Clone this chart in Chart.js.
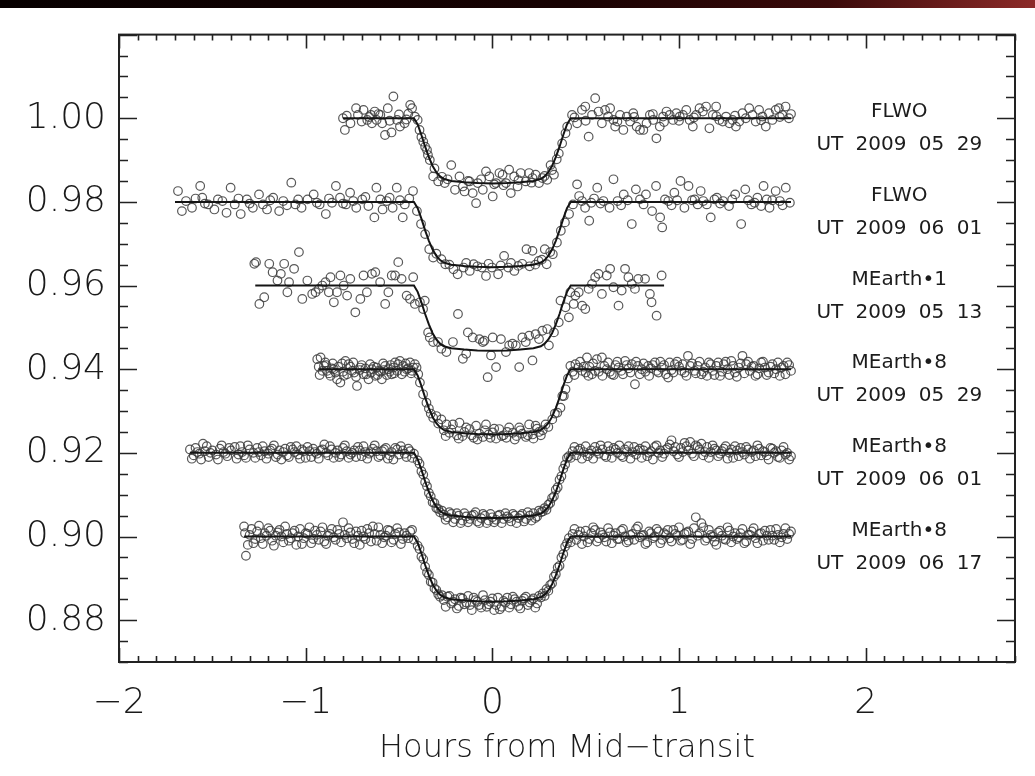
<!DOCTYPE html>
<html>
<head>
<meta charset="utf-8">
<script src="https://cdn.jsdelivr.net/npm/chart.js@4.4.1/dist/chart.umd.min.js"></script>
<style>
  html, body { margin: 0; padding: 0; background: #fff; }
  canvas { display: block; }
</style>
</head>
<body>
<canvas id="lightCurves" width="1035" height="776"></canvas>
<script>
// baseline of each light curve (they are offset by 0.02 for display)
var curveBase = [1.00, 0.98, 0.96, 0.94, 0.92, 0.90];
var curveSite = ['FLWO', 'FLWO', 'MEarth\u20221', 'MEarth\u20228', 'MEarth\u20228', 'MEarth\u20228'];
var curveDate = ['UT 2009 05 29', 'UT 2009 06 01', 'UT 2009 05 13', 'UT 2009 05 29', 'UT 2009 06 01', 'UT 2009 06 17'];
var fitFrom = [-0.80, -1.70, -1.27, -0.93, -1.62, -1.33];
var fitTo = [1.60, 1.60, 0.92, 1.60, 1.60, 1.60];

// fitted transit model, depth in parts per thousand below the baseline
var modelHours = [-0.42, -0.40, -0.38, -0.36, -0.34, -0.32, -0.30, -0.28, -0.26, -0.22, -0.15, -0.08, 0,
                  0.08, 0.15, 0.22, 0.26, 0.28, 0.30, 0.32, 0.34, 0.36, 0.38, 0.40, 0.42];
var modelDepth = [0, 1.5, 4.0, 6.8, 9.3, 11.4, 12.9, 13.9, 14.5, 15.0, 15.3, 15.5, 15.6,
                  15.5, 15.3, 15.0, 14.5, 13.9, 12.9, 11.4, 9.3, 6.8, 4.0, 1.5, 0];

var xTicks = [-2, -1, 0, 1, 2];
var yTicks = [0.88, 0.90, 0.92, 0.94, 0.96, 0.98, 1.00];

// measurements: [hours from mid-transit, flux offset from baseline in ppt]
var flwo0529 = [
  [-0.80,0.0],[-0.79,-2.8],[-0.78,0.6],[-0.76,-1.2],[-0.73,2.4],[-0.72,0.8],[-0.70,-0.8],[-0.69,2.0],[-0.67,-0.4],
  [-0.66,0.3],[-0.65,0.8],[-0.645,-1.2],[-0.63,1.6],[-0.62,-0.4],[-0.61,1.0],[-0.60,0.8],[-0.59,-1.2],[-0.575,-4.0],
  [-0.56,2.4],[-0.55,-0.6],[-0.54,-3.4],[-0.53,5.2],[-0.51,-0.4],[-0.50,0.9],[-0.495,-2.0],[-0.47,-1.2],[-0.46,-0.3],
  [-0.45,1.1],[-0.44,3.2],[-0.43,2.4],[-0.415,0.4],[-0.40,-0.4],[-0.39,-2.8],[-0.38,-4.5],[-0.37,-5.6],[-0.36,-6.8],
  [-0.35,-7.6],[-0.345,-8.8],[-0.335,-10.0],[-0.317,-13.9],[-0.31,-12.0],[-0.29,-15.1],[-0.27,-14.0],[-0.255,-15.5],
  [-0.24,-14.6],[-0.22,-11.2],[-0.20,-17.1],[-0.176,-13.9],[-0.158,-16.3],[-0.149,-17.5],[-0.13,-15.0],[-0.122,-15.1],
  [-0.105,-17.9],[-0.087,-20.3],[-0.078,-15.5],[-0.06,-14.6],[-0.051,-17.1],[-0.034,-12.7],[-0.016,-13.9],[0.002,-18.7],
  [0.01,-15.8],[0.02,-15.5],[0.038,-13.1],[0.055,-13.5],[0.06,-16.0],[0.073,-15.5],[0.09,-12.3],[0.099,-17.9],
  [0.117,-13.9],[0.135,-16.3],[0.14,-14.8],[0.152,-13.1],[0.179,-15.1],[0.197,-13.1],[0.21,-15.4],[0.215,-14.3],
  [0.232,-13.5],[0.25,-15.5],[0.268,-14.3],[0.28,-13.8],[0.294,-14.7],[0.312,-11.2],[0.32,-12.4],[0.33,-13.5],
  [0.345,-9.8],[0.356,-8.4],[0.374,-6.0],[0.392,-3.6],[0.401,-2.0],[0.427,0.8],[0.44,0.2],[0.454,-1.2],[0.48,2.0],
  [0.498,2.8],[0.50,-0.6],[0.516,-4.4],[0.534,0.8],[0.551,4.8],[0.569,1.6],[0.587,-1.2],[0.604,2.0],[0.62,0.4],
  [0.631,2.4],[0.649,-0.4],[0.658,-2.0],[0.67,-0.8],[0.684,0.8],[0.702,-2.8],[0.72,0.4],[0.738,-0.8],[0.755,1.2],
  [0.76,0.3],[0.773,-2.0],[0.791,-2.8],[0.809,-2.8],[0.826,-1.2],[0.844,0.8],[0.86,1.0],[0.862,-0.4],[0.879,-4.8],
  [0.897,-2.0],[0.915,0.4],[0.92,-0.9],[0.933,1.6],[0.95,0.8],[0.968,-0.4],[0.986,1.2],[1.00,-0.6],[1.004,0.4],
  [1.021,0.8],[1.039,2.0],[1.057,-0.4],[1.074,-2.0],[1.08,0.2],[1.092,0.8],[1.11,2.4],[1.128,1.6],[1.145,2.8],
  [1.163,-2.4],[1.181,0.8],[1.199,2.8],[1.20,0.5],[1.216,-0.4],[1.234,-0.8],[1.252,0.4],[1.27,-1.2],[1.287,-0.4],
  [1.30,0.6],[1.305,-2.0],[1.323,-0.8],[1.34,1.2],[1.358,0.0],[1.376,2.4],[1.394,0.8],[1.411,-0.8],[1.429,2.0],
  [1.44,-0.5],[1.447,0.4],[1.465,-2.0],[1.482,1.2],[1.50,-0.4],[1.518,2.0],[1.535,2.4],[1.54,0.3],[1.553,0.8],
  [1.571,2.8],[1.589,0.0],[1.60,1.0]
];
var flwo0601 = [
  [-1.684,2.6],[-1.663,-2.2],[-1.641,0.2],[-1.609,-1.4],[-1.59,0.8],[-1.565,3.8],[-1.554,1.0],[-1.54,-0.4],[-1.522,-0.6],
  [-1.489,-1.8],[-1.47,0.6],[-1.446,0.2],[-1.424,-2.6],[-1.402,3.4],[-1.380,-0.6],[-1.36,0.8],[-1.348,-2.9],[-1.315,0.6],
  [-1.30,-0.4],[-1.283,-1.4],[-1.250,1.8],[-1.229,-0.6],[-1.207,-1.8],[-1.19,0.4],[-1.174,1.0],[-1.142,-2.2],[-1.120,0.2],
  [-1.10,-0.8],[-1.077,4.6],[-1.055,-0.6],[-1.04,0.6],[-1.022,-1.4],[-0.990,0.6],[-0.957,1.8],[-0.94,-0.2],[-0.925,-0.6],
  [-0.892,-2.9],[-0.875,0.8],[-0.859,-0.2],[-0.838,3.8],[-0.816,1.0],[-0.80,-0.4],[-0.784,-0.6],[-0.762,2.2],[-0.745,0.2],
  [-0.729,-1.4],[-0.697,0.6],[-0.68,1.2],[-0.664,-1.0],[-0.632,-3.7],[-0.621,3.4],[-0.60,0.6],[-0.588,-1.8],[-0.566,0.2],
  [-0.55,1.0],[-0.534,-1.4],[-0.512,3.4],[-0.495,0.4],[-0.480,-3.7],[-0.469,-0.6],[-0.445,0.8],[-0.425,2.6],[-0.404,-2.2],
  [-0.382,-5.3],[-0.360,-7.7],[-0.338,-11.3],[-0.317,-13.3],[-0.30,-12.4],[-0.273,-13.7],[-0.252,-14.9],[-0.23,-15.0],
  [-0.208,-16.1],[-0.186,-17.3],[-0.154,-15.7],[-0.14,-14.6],[-0.121,-16.5],[-0.100,-14.9],[-0.08,-15.4],[-0.056,-15.7],
  [-0.034,-17.7],[-0.02,-14.8],[-0.002,-15.7],[0.031,-17.3],[0.045,-15.2],[0.063,-12.9],[0.085,-15.7],[0.10,-14.6],
  [0.118,-16.5],[0.139,-15.3],[0.16,-14.8],[0.183,-11.3],[0.20,-15.4],[0.215,-11.7],[0.23,-15.0],[0.248,-14.1],
  [0.265,-13.8],[0.281,-11.3],[0.291,-14.9],[0.31,-12.0],[0.324,-12.5],[0.346,-9.7],[0.367,-6.9],[0.389,-4.9],
  [0.411,-2.9],[0.432,-0.6],[0.454,4.2],[0.465,1.4],[0.48,0.2],[0.497,-1.4],[0.519,-4.5],[0.530,-0.2],[0.545,0.8],
  [0.562,3.4],[0.58,-0.4],[0.595,0.2],[0.628,-1.4],[0.649,5.4],[0.671,0.2],[0.69,-0.8],[0.704,1.8],[0.725,0.4],
  [0.747,-5.3],[0.769,3.0],[0.791,0.6],[0.81,-0.6],[0.823,1.8],[0.856,-2.2],[0.877,3.8],[0.899,-3.7],[0.910,-6.1],
  [0.925,0.6],[0.943,0.2],[0.96,-0.8],[0.975,2.2],[0.99,0.4],[1.008,5.0],[1.029,-1.4],[1.051,3.8],[1.07,0.4],
  [1.084,0.6],[1.10,-0.6],[1.116,2.6],[1.13,0.2],[1.149,-0.6],[1.170,-3.7],[1.19,0.6],[1.203,1.0],[1.22,-0.4],
  [1.236,0.2],[1.268,-1.0],[1.285,0.6],[1.301,1.8],[1.333,-5.3],[1.355,3.0],[1.37,0.4],[1.388,-0.6],[1.405,-0.2],
  [1.420,1.0],[1.44,-1.0],[1.453,3.8],[1.47,0.6],[1.485,-1.4],[1.50,0.4],[1.518,2.6],[1.540,0.2],[1.555,-0.8],
  [1.572,3.4],[1.594,-0.2]
];
var mearth1_0513 = [
  [-1.275,5.2],[-1.266,5.6],[-1.248,-4.4],[-1.222,-2.8],[-1.195,5.2],[-1.177,3.2],[-1.151,1.2],[-1.133,2.8],[-1.115,5.2],
  [-1.098,-1.6],[-1.089,0.8],[-1.062,4.0],[-1.036,8.0],[-1.018,-3.2],[-0.991,1.2],[-0.965,-2.0],[-0.947,-1.6],
  [-0.929,-0.8],[-0.911,0.0],[-0.894,0.8],[-0.876,-1.6],[-0.867,2.0],[-0.849,-4.0],[-0.832,-1.6],[-0.814,2.4],
  [-0.796,0.0],[-0.778,-2.4],[-0.761,1.6],[-0.734,-6.4],[-0.707,-3.2],[-0.690,2.4],[-0.672,-1.6],[-0.645,2.8],
  [-0.627,3.2],[-0.601,0.8],[-0.574,-4.4],[-0.557,-1.6],[-0.539,2.4],[-0.521,2.4],[-0.504,5.6],[-0.486,1.6],
  [-0.459,-2.4],[-0.441,-3.2],[-0.424,2.0],[-0.415,-4.4],[-0.388,-4.0],[-0.371,-5.6],[-0.362,-3.6],[-0.344,-11.2],
  [-0.335,-12.4],[-0.317,-13.5],[-0.291,-13.5],[-0.273,-15.1],[-0.246,-15.9],[-0.211,-13.5],[-0.184,-6.8],
  [-0.158,-17.5],[-0.140,-16.3],[-0.131,-11.2],[-0.105,-12.4],[-0.069,-12.8],[-0.051,-13.5],[-0.043,-13.2],
  [-0.025,-21.9],[-0.007,-16.7],[0.002,-12.4],[0.020,-19.5],[0.046,-12.8],[0.073,-15.9],[0.090,-14.3],[0.108,-13.9],
  [0.126,-14.3],[0.144,-19.5],[0.161,-12.4],[0.179,-13.5],[0.197,-12.0],[0.215,-17.9],[0.232,-11.6],[0.250,-12.8],
  [0.268,-10.8],[0.294,-10.4],[0.303,-14.3],[0.330,-11.2],[0.356,-8.8],[0.365,-3.6],[0.392,-5.2],[0.410,-7.6],
  [0.418,-1.6],[0.436,-4.4],[0.445,-2.4],[0.463,-1.6],[0.481,-4.8],[0.498,-5.6],[0.516,-0.8],[0.534,0.4],[0.551,2.0],
  [0.569,2.8],[0.587,-2.0],[0.613,2.4],[0.631,4.0],[0.649,-0.4],[0.676,-4.8],[0.693,-1.2],[0.711,4.0],[0.729,2.0],
  [0.747,0.4],[0.764,-0.8],[0.782,1.6],[0.818,1.6],[0.844,-2.0],[0.853,-4.0],[0.880,-7.2],[0.907,2.4]
];
var mearth8_0529 = [
  [-0.938,2.4],[-0.93,0.6],[-0.920,2.8],[-0.91,-0.4],[-0.902,0.8],[-0.89,1.0],[-0.885,-0.4],[-0.867,-1.6],[-0.86,0.2],
  [-0.849,0.0],[-0.84,-0.8],[-0.832,-2.4],[-0.814,-3.2],[-0.80,-0.6],[-0.787,2.0],[-0.778,-1.2],[-0.76,0.6],
  [-0.752,-0.4],[-0.74,-0.8],[-0.725,-4.0],[-0.71,-0.2],[-0.707,0.4],[-0.690,-1.2],[-0.68,0.2],[-0.663,-2.4],
  [-0.65,-0.8],[-0.645,0.0],[-0.627,-1.6],[-0.62,0.4],[-0.610,-0.4],[-0.60,-0.6],[-0.592,-2.4],[-0.58,-0.2],
  [-0.574,0.8],[-0.557,0.0],[-0.55,-0.6],[-0.539,-1.2],[-0.53,0.4],[-0.521,1.6],[-0.51,-0.4],[-0.495,2.0],
  [-0.477,0.8],[-0.47,-0.6],[-0.459,0.0],[-0.45,0.2],[-0.441,1.6],[-0.43,-0.4],[-0.424,0.4],[-0.406,0.4],
  [-0.397,-1.2],[-0.388,-3.2],[-0.371,-6.0],[-0.353,-8.0],[-0.34,-9.4],[-0.33,-10.6],[-0.317,-11.6],[-0.30,-11.2],
  [-0.29,-13.0],[-0.273,-12.0],[-0.26,-14.6],[-0.246,-13.2],[-0.23,-15.2],[-0.211,-13.2],[-0.19,-15.8],[-0.176,-12.8],
  [-0.16,-16.0],[-0.14,-13.9],[-0.122,-14.3],[-0.10,-16.4],[-0.087,-13.5],[-0.07,-15.4],[-0.05,-16.2],[-0.034,-13.2],
  [-0.02,-15.6],[0.002,-15.1],[0.02,-16.6],[0.037,-14.3],[0.06,-15.8],[0.075,-16.4],[0.09,-13.9],[0.11,-15.2],
  [0.13,-16.0],[0.144,-13.9],[0.16,-15.4],[0.18,-16.2],[0.197,-13.2],[0.215,-15.6],[0.232,-13.5],[0.25,-15.0],
  [0.27,-14.6],[0.285,-13.2],[0.30,-13.8],[0.321,-12.0],[0.335,-10.6],[0.348,-10.4],[0.365,-9.2],[0.375,-6.4],
  [0.383,-6.4],[0.392,-4.8],[0.405,-2.2],[0.418,0.8],[0.43,-0.6],[0.445,1.2],[0.46,0.4],[0.481,-0.4],[0.50,-0.8],
  [0.507,2.8],[0.52,0.6],[0.534,-1.2],[0.55,-0.4],[0.560,2.4],[0.587,2.8],[0.60,0.8],[0.613,0.0],[0.63,-0.6],
  [0.640,-1.2],[0.66,1.0],[0.676,0.4],[0.69,-0.4],[0.711,2.0],[0.73,0.2],[0.747,1.2],[0.764,-3.6],[0.78,0.8],
  [0.800,0.0],[0.82,-0.6],[0.835,0.8],[0.85,0.2],[0.871,1.6],[0.89,-0.8],[0.907,0.4],[0.92,1.0],[0.942,-2.0],
  [0.96,-0.2],[0.978,1.2],[1.00,0.6],[1.013,-0.4],[1.03,-0.8],[1.048,3.2],[1.06,0.8],[1.084,-0.4],[1.10,0.8],
  [1.12,-1.2],[1.14,0.4],[1.16,1.6],[1.18,-0.4],[1.20,0.8],[1.22,-1.6],[1.24,1.2],[1.26,0.0],[1.28,2.0],[1.30,-0.8],
  [1.32,0.4],[1.34,3.2],[1.36,1.2],[1.38,-0.4],[1.40,0.8],[1.42,-1.2],[1.44,1.6],[1.46,0.4],[1.48,-0.8],[1.50,1.2],
  [1.52,0.0],[1.54,-1.6],[1.56,0.8],[1.58,1.6],[1.60,-0.4],
  [-0.925,-1.4],[-0.895,1.6],[-0.875,-1.0],[-0.855,1.4],[-0.825,0.6],[-0.805,1.4],[-0.795,-1.6],[-0.77,1.2],
  [-0.745,1.6],[-0.73,-1.8],[-0.70,1.0],[-0.675,-1.2],[-0.655,1.2],[-0.635,0.6],[-0.615,-1.4],[-0.585,1.4],
  [-0.565,-1.4],[-0.545,1.0],[-0.525,-1.0],[-0.505,1.2],[-0.485,-1.2],[-0.465,1.4],[-0.435,-1.0],[-0.415,1.2],
  [-0.25,-16.0],[-0.22,-14.4],[-0.18,-16.6],[-0.15,-15.0],[-0.11,-15.8],[-0.08,-16.8],[-0.04,-14.6],[-0.01,-16.4],
  [0.01,-14.2],[0.05,-16.0],[0.08,-15.0],[0.12,-16.8],[0.15,-14.6],[0.19,-15.8],[0.22,-16.6],[0.24,-14.2],[0.26,-15.8],
  [0.44,-1.4],[0.47,1.8],[0.49,0.6],[0.515,-1.6],[0.54,1.4],[0.57,-0.6],[0.59,-1.6],[0.62,1.6],[0.65,-1.4],[0.67,1.8],
  [0.70,-1.2],[0.72,1.0],[0.74,-0.8],[0.77,1.8],[0.79,-1.2],[0.81,1.4],[0.84,-1.6],[0.86,1.0],[0.88,-0.4],[0.90,1.8],
  [0.93,-1.2],[0.95,1.6],[0.97,-0.8],[0.99,1.8],[1.02,1.2],[1.04,-1.6],[1.07,1.4],[1.09,-1.0],[1.11,1.8],[1.13,-0.6],
  [1.15,-1.6],[1.17,1.2],[1.19,-1.4],[1.21,1.6],[1.23,-0.6],[1.25,1.8],[1.27,-1.4],[1.29,0.8],[1.31,-1.8],[1.33,1.4],
  [1.35,-1.0],[1.37,1.8],[1.39,0.6],[1.41,-1.6],[1.43,0.2],[1.45,1.8],[1.47,-1.4],[1.49,0.6],[1.51,-1.0],[1.53,1.6],
  [1.55,0.4],[1.57,-1.2],[1.59,1.0]
];
var mearth8_0601 = [
  [-1.62,0.8],[-1.60,-0.6],[-1.59,1.2],[-1.57,-0.2],[-1.55,2.2],[-1.54,0.4],[-1.52,-1.0],[-1.50,0.6],[-1.48,-0.4],
  [-1.46,1.0],[-1.44,0.2],[-1.42,-0.8],[-1.40,0.6],[-1.38,1.4],[-1.36,-0.4],[-1.34,0.2],[-1.32,-1.2],[-1.30,0.8],
  [-1.28,0.0],[-1.26,1.2],[-1.24,-0.6],[-1.22,0.4],[-1.20,-0.2],[-1.18,1.0],[-1.16,-1.0],[-1.14,0.6],[-1.12,0.2],
  [-1.10,-0.6],[-1.08,1.4],[-1.06,0.2],[-1.04,-0.4],[-1.02,0.8],[-1.00,-1.2],[-0.98,0.4],[-0.96,1.0],[-0.94,-0.2],
  [-0.92,0.6],[-0.90,2.0],[-0.88,-0.6],[-0.86,0.8],[-0.84,0.0],[-0.82,-1.0],[-0.80,1.2],[-0.78,0.4],[-0.76,-0.4],
  [-0.74,0.6],[-0.72,1.4],[-0.70,-0.8],[-0.68,0.2],[-0.66,-0.2],[-0.64,1.0],[-0.62,0.4],[-0.60,-0.6],[-0.58,0.8],
  [-0.56,-1.4],[-0.54,0.2],[-0.52,1.2],[-0.50,-0.4],[-0.48,0.6],[-0.46,-1.0],[-0.44,0.4],[-0.42,-0.2],[-0.40,-1.8],
  [-0.39,-2.6],[-0.38,-4.4],[-0.37,-5.2],[-0.36,-7.0],[-0.35,-8.0],[-0.34,-9.6],[-0.33,-10.4],[-0.32,-11.8],
  [-0.31,-12.0],[-0.30,-13.2],[-0.29,-13.4],[-0.28,-14.2],[-0.27,-13.8],[-0.26,-14.8],[-0.24,-15.4],[-0.22,-14.6],
  [-0.20,-15.8],[-0.18,-15.0],[-0.16,-16.2],[-0.14,-15.2],[-0.12,-15.8],[-0.10,-14.8],[-0.08,-16.4],[-0.06,-15.6],
  [-0.04,-15.0],[-0.02,-16.2],[0.00,-15.4],[0.02,-16.0],[0.04,-14.8],[0.06,-15.8],[0.08,-15.2],[0.10,-16.4],
  [0.12,-15.0],[0.14,-15.6],[0.16,-14.6],[0.18,-15.8],[0.20,-15.0],[0.22,-14.4],[0.24,-15.2],[0.26,-14.2],
  [0.27,-14.0],[0.28,-13.2],[0.29,-13.6],[0.30,-12.4],[0.31,-12.0],[0.32,-10.8],[0.33,-10.4],[0.34,-8.8],[0.35,-8.2],
  [0.36,-6.4],[0.37,-5.6],[0.38,-3.8],[0.39,-2.8],[0.40,-1.2],[0.41,-0.8],[0.43,0.4],[0.45,-0.6],[0.47,1.0],[0.49,0.2],
  [0.51,-0.8],[0.53,0.6],[0.55,1.4],[0.57,-0.2],[0.59,0.8],[0.61,-1.0],[0.63,0.4],[0.65,1.2],[0.67,0.0],[0.69,-0.6],
  [0.71,0.8],[0.73,1.6],[0.75,0.2],[0.77,-0.4],[0.79,1.0],[0.81,0.6],[0.83,-0.8],[0.85,0.4],[0.87,1.4],[0.89,0.0],
  [0.91,-1.0],[0.93,0.8],[0.95,2.0],[0.97,0.4],[0.99,-0.4],[1.01,1.2],[1.03,2.4],[1.05,0.6],[1.07,-0.2],[1.09,1.8],
  [1.11,0.8],[1.13,-0.6],[1.15,1.4],[1.17,0.2],[1.19,1.0],[1.21,-0.8],[1.23,0.4],[1.25,1.6],[1.27,0.0],[1.29,-1.2],
  [1.31,0.6],[1.33,1.2],[1.35,-0.4],[1.37,0.8],[1.39,0.2],[1.41,-0.8],[1.43,1.0],[1.45,0.4],[1.47,-0.6],[1.49,1.2],
  [1.51,0.0],[1.53,-1.0],[1.55,0.6],[1.57,-0.4],[1.59,-1.6],
  [-1.61,-1.4],[-1.58,0.2],[-1.56,-1.6],[-1.53,1.6],[-1.51,0.0],[-1.47,-1.6],[-1.45,1.8],[-1.43,-0.2],[-1.41,1.2],
  [-1.37,-1.4],[-1.35,1.6],[-1.33,-0.6],[-1.31,1.8],[-1.27,-1.2],[-1.25,0.2],[-1.23,1.6],[-1.21,-1.4],[-1.19,0.6],
  [-1.17,1.8],[-1.15,-0.4],[-1.13,-1.6],[-1.11,1.0],[-1.09,-1.0],[-1.07,0.8],[-1.05,1.6],[-1.03,-1.4],[-1.01,0.4],
  [-0.99,1.4],[-0.97,-1.0],[-0.95,0.2],[-0.93,-1.4],[-0.91,0.8],[-0.89,0.0],[-0.87,1.6],[-0.85,-1.2],[-0.83,0.6],
  [-0.81,-0.4],[-0.79,1.8],[-0.77,-1.2],[-0.75,0.0],[-0.73,-1.0],[-0.71,0.6],[-0.69,1.6],[-0.67,-1.4],[-0.65,0.2],
  [-0.63,1.8],[-0.61,-1.0],[-0.59,0.4],[-0.57,1.2],[-0.55,-0.6],[-0.53,-1.6],[-0.51,0.8],[-0.49,1.6],[-0.47,-0.2],
  [-0.45,1.0],[-0.43,-1.2],
  [-0.25,-16.0],[-0.23,-14.2],[-0.21,-16.6],[-0.19,-14.4],[-0.17,-16.8],[-0.15,-14.4],[-0.13,-16.6],[-0.11,-15.0],
  [-0.09,-14.2],[-0.07,-16.8],[-0.05,-14.6],[-0.03,-16.8],[-0.01,-14.6],[0.01,-16.6],[0.03,-15.0],[0.05,-16.8],
  [0.07,-14.4],[0.09,-15.6],[0.11,-14.6],[0.13,-16.8],[0.15,-15.0],[0.17,-16.4],[0.19,-14.2],[0.21,-16.2],[0.23,-15.6],
  [0.25,-13.8],
  [0.42,-1.2],[0.44,1.4],[0.46,0.6],[0.48,-1.4],[0.50,1.6],[0.52,-0.2],[0.54,-1.4],[0.56,0.4],[0.58,1.8],[0.60,-0.6],
  [0.62,1.6],[0.64,-1.2],[0.66,0.8],[0.68,1.8],[0.70,-1.0],[0.72,0.2],[0.74,-1.4],[0.76,1.4],[0.78,0.6],[0.80,-1.2],
  [0.82,1.6],[0.84,0.0],[0.86,-1.6],[0.88,1.8],[0.90,0.6],[0.92,-0.2],[0.94,1.2],[0.96,3.0],[0.98,1.4],[1.00,-1.0],
  [1.02,0.2],[1.04,1.6],[1.06,2.6],[1.08,-0.8],[1.10,1.4],[1.12,2.2],[1.14,0.2],[1.16,-1.2],[1.18,1.8],[1.20,0.6],
  [1.22,-0.2],[1.24,1.0],[1.26,-1.4],[1.28,0.8],[1.30,1.6],[1.32,-0.8],[1.34,0.2],[1.36,1.4],[1.38,-1.4],[1.40,0.6],
  [1.42,1.8],[1.44,-0.6],[1.46,0.2],[1.48,-1.6],[1.50,1.0],[1.52,0.4],[1.54,-1.2],[1.56,1.4],[1.58,0.0],[1.60,-0.8]
];
var mearth8_0617 = [
  [-1.33,2.4],[-1.32,-4.6],[-1.30,0.4],[-1.28,-1.6],[-1.26,1.2],[-1.24,-0.4],[-1.22,0.8],[-1.20,2.0],[-1.18,-1.0],
  [-1.16,0.2],[-1.14,1.6],[-1.12,-1.4],[-1.10,0.6],[-1.08,-0.4],[-1.06,1.4],[-1.04,0.0],[-1.02,-1.8],[-1.00,0.8],
  [-0.98,2.2],[-0.96,-0.6],[-0.94,0.4],[-0.92,1.2],[-0.90,-1.2],[-0.88,0.2],[-0.86,1.8],[-0.84,-0.8],[-0.82,0.6],
  [-0.80,3.4],[-0.78,-0.4],[-0.76,1.0],[-0.74,-1.6],[-0.72,0.2],[-0.70,1.4],[-0.68,-0.6],[-0.66,0.8],[-0.64,2.4],
  [-0.62,-1.0],[-0.60,0.4],[-0.58,-0.2],[-0.56,1.6],[-0.54,-1.4],[-0.52,0.6],[-0.50,1.0],[-0.48,-0.6],[-0.46,0.2],
  [-0.44,1.2],[-0.42,-0.8],[-0.40,-2.2],[-0.39,-3.0],[-0.38,-4.8],[-0.37,-5.4],[-0.36,-7.2],[-0.35,-8.6],[-0.34,-9.2],
  [-0.33,-10.8],[-0.32,-11.0],[-0.31,-12.4],[-0.30,-12.8],[-0.29,-13.8],[-0.28,-14.4],[-0.27,-14.0],[-0.26,-15.2],
  [-0.24,-14.4],[-0.22,-16.0],[-0.20,-15.0],[-0.18,-16.6],[-0.16,-14.8],[-0.14,-15.8],[-0.12,-16.4],[-0.10,-14.6],
  [-0.08,-15.6],[-0.06,-17.0],[-0.04,-15.2],[-0.02,-16.2],[0.00,-14.8],[0.02,-16.4],[0.04,-17.4],[0.06,-15.4],
  [0.08,-14.6],[0.10,-16.2],[0.12,-15.0],[0.14,-16.6],[0.16,-15.4],[0.18,-14.4],[0.20,-15.8],[0.22,-14.8],[0.24,-16.0],
  [0.26,-14.6],[0.27,-13.6],[0.28,-14.2],[0.29,-12.6],[0.30,-13.0],[0.31,-11.6],[0.32,-11.2],[0.33,-9.6],[0.34,-9.0],
  [0.35,-7.4],[0.36,-7.0],[0.37,-5.0],[0.38,-4.2],[0.39,-2.4],[0.40,-1.6],[0.41,-0.4],[0.43,0.6],[0.45,-0.8],[0.47,1.2],
  [0.49,0.0],[0.51,-1.4],[0.53,0.8],[0.55,1.6],[0.57,-0.4],[0.59,0.4],[0.61,-1.2],[0.63,1.0],[0.65,0.2],[0.67,-0.6],
  [0.69,1.4],[0.71,0.0],[0.73,-1.0],[0.75,0.6],[0.77,1.8],[0.79,-0.2],[0.81,0.4],[0.83,-1.4],[0.85,0.8],[0.87,0.0],
  [0.89,1.2],[0.91,-0.8],[0.93,0.4],[0.95,-0.4],[0.97,1.6],[0.99,0.2],[1.01,-1.0],[1.03,0.6],[1.05,1.2],[1.07,-0.6],
  [1.09,4.6],[1.11,0.8],[1.13,2.2],[1.15,-0.4],[1.17,0.4],[1.19,-1.2],[1.21,1.0],[1.23,0.2],[1.25,-0.8],[1.27,1.4],
  [1.29,0.0],[1.31,-0.6],[1.33,0.8],[1.35,-1.6],[1.37,0.4],[1.39,1.2],[1.41,-0.4],[1.43,0.6],[1.45,-1.0],[1.47,0.2],
  [1.49,1.6],[1.51,-0.8],[1.53,0.4],[1.55,-0.2],[1.57,2.0],[1.59,0.6],
  [-1.325,0.8],[-1.31,-2.0],[-1.29,1.8],[-1.27,-0.6],[-1.25,2.6],[-1.23,-1.8],[-1.21,0.2],[-1.19,1.4],[-1.17,-2.2],
  [-1.15,1.0],[-1.13,0.0],[-1.11,2.4],[-1.09,-1.0],[-1.07,0.8],[-1.05,-2.0],[-1.03,1.8],[-1.01,-0.4],[-0.99,0.6],
  [-0.97,-1.6],[-0.95,1.4],[-0.93,-0.8],[-0.91,2.2],[-0.89,-1.8],[-0.87,0.6],[-0.85,-0.2],[-0.83,1.6],[-0.81,-1.4],
  [-0.79,0.4],[-0.77,2.0],[-0.75,-0.6],[-0.73,1.2],[-0.71,-2.0],[-0.69,0.0],[-0.67,1.8],[-0.65,-1.2],[-0.63,0.6],
  [-0.61,2.2],[-0.59,-1.6],[-0.57,0.2],[-0.55,1.4],[-0.53,-0.8],[-0.51,2.0],[-0.49,-1.8],[-0.47,0.8],[-0.45,-0.4],
  [-0.43,1.6],
  [-0.25,-16.8],[-0.23,-14.2],[-0.21,-15.6],[-0.19,-17.2],[-0.17,-14.6],[-0.15,-16.2],[-0.13,-14.2],[-0.11,-17.6],
  [-0.09,-15.2],[-0.07,-16.4],[-0.05,-14.0],[-0.03,-16.8],[-0.01,-15.6],[0.01,-17.6],[0.03,-14.6],[0.05,-16.8],
  [0.07,-15.8],[0.09,-17.0],[0.11,-14.4],[0.13,-15.6],[0.15,-17.2],[0.17,-14.8],[0.19,-16.4],[0.21,-15.2],[0.23,-17.0],
  [0.25,-14.2],
  [0.42,-1.4],[0.44,1.8],[0.46,0.4],[0.48,-1.8],[0.50,1.4],[0.52,-0.6],[0.54,2.2],[0.56,-1.2],[0.58,1.0],[0.60,-0.2],
  [0.62,2.0],[0.64,-1.6],[0.66,0.8],[0.68,-0.6],[0.70,1.8],[0.72,-1.4],[0.74,0.4],[0.76,-0.8],[0.78,2.4],[0.80,0.2],
  [0.82,-1.8],[0.84,1.2],[0.86,-0.4],[0.88,1.8],[0.90,-1.6],[0.92,0.8],[0.94,1.6],[0.96,-1.2],[0.98,0.6],[1.00,2.2],
  [1.02,-0.8],[1.04,1.0],[1.06,-1.8],[1.08,2.0],[1.10,0.2],[1.12,3.2],[1.14,-1.0],[1.16,1.6],[1.18,0.0],[1.20,-2.0],
  [1.22,1.4],[1.24,-0.6],[1.26,2.2],[1.28,-1.4],[1.30,0.8],[1.32,-0.2],[1.34,1.8],[1.36,-1.2],[1.38,0.4],[1.40,2.0],
  [1.42,-1.6],[1.44,0.8],[1.46,1.4],[1.48,-0.8],[1.50,0.2],[1.52,1.8],[1.54,-1.4],[1.56,0.6],[1.58,-0.6],[1.60,1.2]
];
var curveData = [flwo0529, flwo0601, mearth1_0513, mearth8_0529, mearth8_0601, mearth8_0617];

var datasets = [];
curveData.forEach(function(points, i) {
    var base = curveBase[i];
    datasets.push({
        type: 'scatter',
        data: points.map(function(p) { return {x: p[0], y: base + p[1] / 1000}; }),
        pointStyle: 'circle',
        pointRadius: 4.3,
        pointBorderWidth: 1.2,
        pointBorderColor: 'rgba(60,60,60,0.85)',
        pointBackgroundColor: 'rgba(0,0,0,0)',
        order: 2
    });
    var fit = [{x: fitFrom[i], y: base}];
    modelHours.forEach(function(h, j) {
        if (h > fitFrom[i] && h < fitTo[i]) fit.push({x: h, y: base - modelDepth[j] / 1000});
    });
    fit.push({x: fitTo[i], y: base});
    datasets.push({
        type: 'line',
        data: fit,
        borderColor: '#141414',
        borderWidth: 2,
        pointRadius: 0,
        tension: 0,
        fill: false,
        order: 1
    });
});

// frame, inward ticks, dark banner and the per-night labels
var framePlugin = {
    id: 'framePlugin',
    beforeDraw: function(chart) {
        var ctx = chart.ctx;
        var g = ctx.createLinearGradient(0, 0, chart.width, 0);
        g.addColorStop(0, '#070000');
        g.addColorStop(0.55, '#180202');
        g.addColorStop(0.8, '#3a0a0a');
        g.addColorStop(1, '#8c2a28');
        ctx.save();
        ctx.fillStyle = g;
        ctx.fillRect(0, 0, chart.width, 8);
        ctx.restore();
    },
    afterDraw: function(chart) {
        var ctx = chart.ctx, a = chart.chartArea;
        var xs = chart.scales.x, ys = chart.scales.y;
        ctx.save();
        ctx.strokeStyle = '#222';
        ctx.lineWidth = 2;
        ctx.strokeRect(a.left, a.top, a.right - a.left, a.bottom - a.top);
        ctx.lineWidth = 1.6;
        ctx.beginPath();
        for (var i = -20; i <= 28; i++) {
            var px = Math.round(xs.getPixelForValue(i / 10)) + 0.5;
            var len = (i % 10 === 0) ? 14 : 6;
            ctx.moveTo(px, a.bottom); ctx.lineTo(px, a.bottom - len);
            ctx.moveTo(px, a.top); ctx.lineTo(px, a.top + len);
        }
        for (var k = 174; k <= 204; k++) {
            var py = Math.round(ys.getPixelForValue(k * 0.005)) + 0.5;
            var l = (k % 4 === 0) ? 18 : 9;
            ctx.moveTo(a.left, py); ctx.lineTo(a.left + l, py);
            ctx.moveTo(a.right, py); ctx.lineTo(a.right - l, py);
        }
        ctx.stroke();

        ctx.fillStyle = '#1c1c1c';
        ctx.textAlign = 'center';
        ctx.textBaseline = 'middle';
        ctx.font = '20px "DejaVu Sans"';
        if ('wordSpacing' in ctx) ctx.wordSpacing = '6px';
        var lx = xs.getPixelForValue(2.18);
        curveBase.forEach(function(b, i) {
            var by = ys.getPixelForValue(b);
            ctx.fillText(curveSite[i], lx, by - 6);
            ctx.fillText(curveDate[i], lx, by + 27);
        });
        ctx.restore();
    }
};

var tickFont = {family: '"DejaVu Sans"', size: 36, weight: '300'};

new Chart(document.getElementById('lightCurves').getContext('2d'), {
    data: {datasets: datasets},
    options: {
        responsive: false,
        devicePixelRatio: 1,
        animation: false,
        layout: {padding: {top: 32, right: 20, left: 0, bottom: 0}},
        plugins: {legend: {display: false}, tooltip: {enabled: false}},
        scales: {
            x: {
                type: 'linear',
                min: -2,
                max: 2.8,
                afterFit: function(s) { s.height = 114; },
                afterBuildTicks: function(s) { s.ticks = xTicks.map(function(v) { return {value: v}; }); },
                grid: {display: false, drawTicks: false},
                border: {display: false},
                ticks: {
                    color: '#1a1a1a',
                    font: tickFont,
                    padding: 20,
                    maxRotation: 0,
                    callback: function(v) { return v < 0 ? '\u2212' + (-v) : String(v); }
                },
                title: {
                    display: true,
                    text: 'Hours from Mid\u2212transit',
                    color: '#1a1a1a',
                    font: {family: '"DejaVu Sans"', size: 32, weight: '300'},
                    padding: {top: 0, bottom: 8}
                }
            },
            y: {
                type: 'linear',
                min: 0.87,
                max: 1.02,
                afterFit: function(s) { s.width = 119; },
                afterBuildTicks: function(s) { s.ticks = yTicks.map(function(v) { return {value: v}; }); },
                grid: {display: false, drawTicks: false},
                border: {display: false},
                ticks: {
                    color: '#1a1a1a',
                    font: tickFont,
                    padding: 13,
                    callback: function(v) { return v.toFixed(2); }
                }
            }
        }
    },
    plugins: [framePlugin]
});
</script>
</body>
</html>
